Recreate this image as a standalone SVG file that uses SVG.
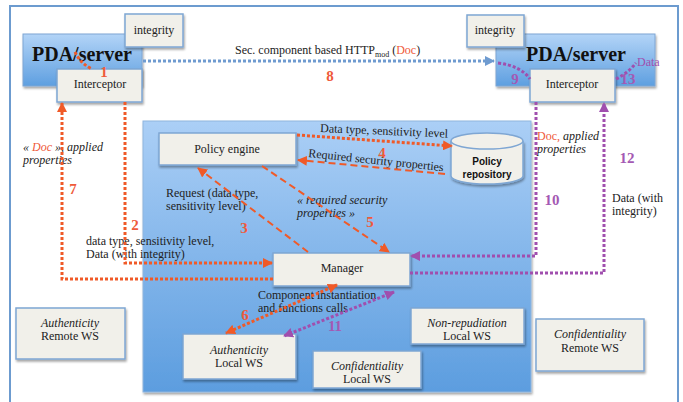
<svg xmlns="http://www.w3.org/2000/svg" width="683" height="402" viewBox="0 0 683 402">
<defs>
<linearGradient id="gBlue" x1="0" y1="0" x2="0" y2="1"><stop offset="0" stop-color="#b3d4f7"/><stop offset="1" stop-color="#5e9fe0"/></linearGradient>
<linearGradient id="gRegion" x1="0" y1="0" x2="0" y2="1"><stop offset="0" stop-color="#abcff6"/><stop offset="1" stop-color="#5c9ddf"/></linearGradient>
<filter id="sh" x="-10%" y="-10%" width="130%" height="140%"><feDropShadow dx="1" dy="2" stdDeviation="1.2" flood-color="#000" flood-opacity="0.35"/></filter>
<marker id="ar" viewBox="0 0 10 10" refX="9" refY="5" markerWidth="10" markerHeight="10" markerUnits="userSpaceOnUse" orient="auto-start-reverse"><path d="M0,0 L10,5 L0,10 z" fill="#f05a28"/></marker>
<marker id="ap" viewBox="0 0 10 10" refX="9" refY="5" markerWidth="10" markerHeight="10" markerUnits="userSpaceOnUse" orient="auto-start-reverse"><path d="M0,0 L10,5 L0,10 z" fill="#a04fae"/></marker>
<marker id="ab" viewBox="0 0 10 10" refX="9" refY="5" markerWidth="10" markerHeight="10" markerUnits="userSpaceOnUse" orient="auto-start-reverse"><path d="M0,0 L10,5 L0,10 z" fill="#6f9bd0"/></marker>
</defs>
<style>
.t{font-family:"Liberation Serif","Times New Roman",serif;font-size:12px;fill:#222}
.c{text-anchor:middle}
.i{font-style:italic}
.box{fill:#f1f0ea;stroke:#7ea6d3;stroke-width:1.5;filter:url(#sh)}
.pda{fill:url(#gBlue);stroke:#7ea6d3;stroke-width:1;filter:url(#sh)}
.big{font-family:"Liberation Serif","Times New Roman",serif;font-size:20px;font-weight:bold;fill:#111;text-anchor:middle}
.num{font-family:"Liberation Serif","Times New Roman",serif;font-size:15px;font-weight:bold;text-anchor:middle}
.nr{fill:#ef5a3a}
.np{fill:#a459b3}
.red{fill:#ef5a3a}
.rd{fill:none;stroke:#f05a28;stroke-width:3;stroke-dasharray:3 2}
.rdash{fill:none;stroke:#f05a28;stroke-width:2;stroke-dasharray:7 4}
.pd{fill:none;stroke:#a04fae;stroke-width:3;stroke-dasharray:3 2}
.bd{fill:none;stroke:#6f9bd0;stroke-width:3;stroke-dasharray:3 2}
.sans{font-family:"Liberation Sans",Arial,sans-serif;font-size:10px;font-weight:bold;fill:#111;text-anchor:middle}
</style>
<rect x="10" y="6" width="668" height="410" fill="#fff" stroke="#6c9bcf" stroke-width="2"/>
<rect id="region" x="143" y="121" width="388" height="271" fill="url(#gRegion)" stroke="#8fb5de" stroke-width="1" filter="url(#sh)"/>

<g id="pda-left">
<rect class="pda" x="23" y="34" width="119" height="52"/>
<text class="big" x="82" y="61">PDA/server</text>
</g>
<g id="integrity-left">
<rect class="box" x="125" y="14" width="58" height="33"/>
<text class="t c" x="154" y="34">integrity</text>
</g>
<g id="interceptor-left">
<rect class="box" x="57" y="69" width="85" height="33"/>
<text class="t c" x="100" y="88">Interceptor</text>
</g>

<g id="pda-right">
<rect class="pda" x="496" y="34" width="159" height="52"/>
<text class="big" x="576" y="61">PDA/server</text>
</g>
<g id="integrity-right">
<rect class="box" x="467" y="15" width="57" height="32"/>
<text class="t c" x="495" y="34">integrity</text>
</g>
<g id="interceptor-right">
<rect class="box" x="530" y="69" width="85" height="33"/>
<text class="t c" x="572" y="88">Interceptor</text>
</g>

<g id="policy-engine">
<rect class="box" x="159" y="133" width="137" height="32"/>
<text class="t c" x="227" y="153">Policy  engine</text>
</g>
<g id="policy-repository">
<path d="M451,141 V176 A36,8 0 0 0 523,176 V141" fill="#f1f0ea" stroke="#7ea6d3" stroke-width="1.5" filter="url(#sh)"/>
<ellipse cx="487" cy="141" rx="36" ry="8" fill="#f1f0ea" stroke="#7ea6d3" stroke-width="1.5"/>
<text class="sans" x="487" y="165">Policy</text>
<text class="sans" x="487" y="178">repository</text>
</g>
<g id="manager">
<rect class="box" x="273" y="253" width="137" height="33"/>
<text class="t c" x="342" y="272">Manager</text>
</g>
<g id="auth-remote">
<rect class="box" x="16" y="308" width="109" height="51"/>
<text class="t c i" x="70" y="327">Authenticity</text>
<text class="t c" x="70" y="340">Remote WS</text>
</g>
<g id="auth-local">
<rect class="box" x="183" y="334" width="113" height="45"/>
<text class="t c i" x="239" y="354">Authenticity</text>
<text class="t c" x="239" y="367">Local WS</text>
</g>
<g id="nonrep-local">
<rect class="box" x="411" y="308" width="113" height="36"/>
<text class="t c i" x="467" y="327">Non-repudiation</text>
<text class="t c" x="467" y="340">Local WS</text>
</g>
<g id="conf-local">
<rect class="box" x="313" y="351" width="108" height="37"/>
<text class="t c i" x="367" y="370">Confidentiality</text>
<text class="t c" x="367" y="383">Local WS</text>
</g>
<g id="conf-remote">
<rect class="box" x="536" y="319" width="108" height="52"/>
<text class="t c i" x="590" y="338">Confidentiality</text>
<text class="t c" x="590" y="352">Remote WS</text>
</g>

<g id="labels">
<text class="t" x="235" y="54">Sec. component based HTTP<tspan font-size="8" dy="3">mod</tspan><tspan dy="-3"> (</tspan><tspan class="red">Doc</tspan>)</text>
<text class="t i" x="23" y="151">« <tspan class="red">Doc</tspan> », applied</text>
<text class="t i" x="23" y="164">properties</text>
<text class="t" x="86" y="245">data type, sensitivity level,</text>
<text class="t" x="86" y="258">Data (with integrity)</text>
<text class="t" x="320" y="132" transform="rotate(2.5 320 132)">Data type, sensitivity level</text>
<text class="t" x="308" y="157" transform="rotate(6 308 157)">Required security properties</text>
<text class="t" x="166" y="197">Request (data type,</text>
<text class="t" x="166" y="210">sensitivity level)</text>
<text class="t i" x="297" y="204">« required security</text>
<text class="t i" x="297" y="217">properties »</text>
<text class="t" x="258" y="299">Component instantiation</text>
<text class="t" x="258" y="312">and functions calls</text>
<text class="t" x="537" y="140"><tspan class="red">Doc,</tspan> <tspan class="i">applied</tspan></text>
<text class="t i" x="537" y="153">properties</text>
<text class="t" x="612" y="202">Data (with</text>
<text class="t" x="612" y="215">integrity)</text>
<text class="t" x="637" y="66" font-size="9" style="fill:#a04fae">Data</text>
</g>

<g id="connectors">
<path class="bd" d="M143,61 H494" marker-end="url(#ab)"/>
<path class="rd" d="M75,52 Q80,63 92,69"/>
<path class="pd" d="M498,63 Q521,66 530,79"/>
<path class="pd" d="M616,79 Q628,73 636,63"/>
<path class="rd" d="M125,102 V263 H272" marker-end="url(#ar)"/>
<path class="rd" d="M273,279 H62 V103" marker-end="url(#ar)"/>
<path class="pd" d="M536,102 V256 H411" marker-end="url(#ap)"/>
<path class="pd" d="M410,273 H604 V103" marker-end="url(#ap)"/>
<path class="rd" d="M297,135 L452,146" marker-end="url(#ar)"/>
<path class="rdash" d="M445,174 L298,160" marker-end="url(#ar)"/>
<path class="rdash" d="M308,252 L198,168" marker-end="url(#ar)"/>
<path class="rdash" d="M262,166 L389,252" marker-end="url(#ar)"/>
<path class="rd" d="M337,285 L226,333" marker-start="url(#ar)" marker-end="url(#ar)"/>
<path class="pd" d="M394,292 L284,336" marker-start="url(#ap)" marker-end="url(#ap)"/>
</g>

<g id="numbers">
<text class="num nr" x="104" y="77">1</text>
<text class="num nr" x="135" y="230">2</text>
<text class="num nr" x="244" y="233">3</text>
<text class="num nr" x="382" y="158">4</text>
<text class="num nr" x="370" y="227">5</text>
<text class="num nr" x="245" y="320">6</text>
<text class="num nr" x="73" y="194">7</text>
<text class="num nr" x="330" y="81">8</text>
<text class="num np" x="515" y="84">9</text>
<text class="num np" x="552" y="205">10</text>
<text class="num np" x="335" y="331">11</text>
<text class="num np" x="627" y="163">12</text>
<text class="num np" x="628" y="84">13</text>
</g>
</svg>
